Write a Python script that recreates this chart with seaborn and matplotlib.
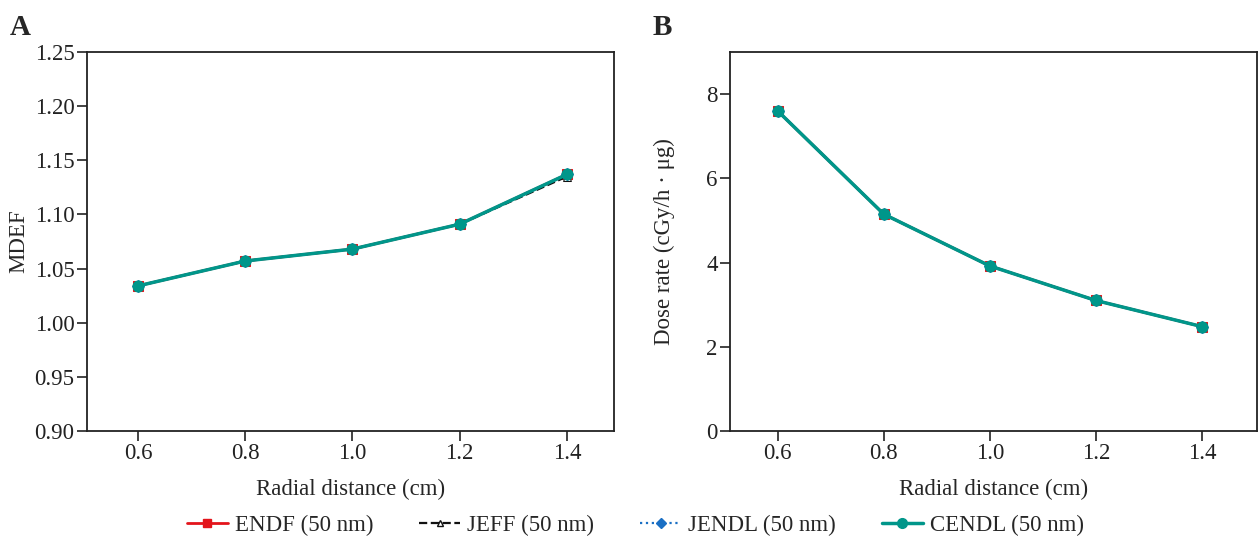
import numpy as np
import pandas as pd
import matplotlib
matplotlib.use("Agg")
import matplotlib.pyplot as plt
import seaborn as sns
from matplotlib.lines import Line2D

radial = [0.6, 0.8, 1.0, 1.2, 1.4]
series = ["ENDF (50 nm)", "JEFF (50 nm)", "JENDL (50 nm)", "CENDL (50 nm)"]

mdef_endf = [1.034, 1.057, 1.068, 1.091, 1.137]
mdef_jeff = [1.034, 1.057, 1.068, 1.091, 1.135]
mdef_jendl = [1.034, 1.057, 1.068, 1.091, 1.137]
mdef_cendl = [1.034, 1.057, 1.068, 1.091, 1.137]

dose_endf = [7.60, 5.15, 3.92, 3.10, 2.48]
dose_jeff = [7.60, 5.15, 3.92, 3.10, 2.48]
dose_jendl = [7.60, 5.15, 3.92, 3.10, 2.48]
dose_cendl = [7.60, 5.15, 3.92, 3.10, 2.48]

rows = []
for name, m, d in zip(series,
                      [mdef_endf, mdef_jeff, mdef_jendl, mdef_cendl],
                      [dose_endf, dose_jeff, dose_jendl, dose_cendl]):
    for x, mv, dv in zip(radial, m, d):
        rows.append({"r": x, "series": name, "mdef": mv, "dose": dv})
df = pd.DataFrame(rows)

sns.set_theme(style="ticks")
plt.rcParams["font.family"] = ["Liberation Serif", "DejaVu Serif"]

colors = {"ENDF (50 nm)": "#e3141b", "JEFF (50 nm)": "#111111",
          "JENDL (50 nm)": "#1a6fc4", "CENDL (50 nm)": "#00968a"}
styles = {"ENDF (50 nm)": dict(ls="-", marker="s", lw=2.0, ms=7, mfc="#e3141b"),
          "JEFF (50 nm)": dict(ls="--", marker="^", lw=1.6, ms=6, mfc="none"),
          "JENDL (50 nm)": dict(ls=":", marker="D", lw=1.6, ms=6, mfc="#1a6fc4"),
          "CENDL (50 nm)": dict(ls="-", marker="o", lw=2.5, ms=8, mfc="#00968a")}

fig = plt.figure(figsize=(12.58, 5.42), dpi=100)
axA = fig.add_axes([0.0692, 0.2048, 0.4189, 0.6992])
axB = fig.add_axes([0.5803, 0.2048, 0.4189, 0.6992])

fs = 16.5
for ax, col in [(axA, "mdef"), (axB, "dose")]:
    for name in series:
        sub = df[df["series"] == name]
        st = styles[name]
        sns.lineplot(data=sub, x="r", y=col, ax=ax, color=colors[name],
                     linestyle=st["ls"], marker=st["marker"], linewidth=st["lw"],
                     markersize=st["ms"], markerfacecolor=st["mfc"],
                     markeredgecolor=colors[name], legend=False)
    ax.set_xticks(radial)
    ax.set_xticklabels([f"{v:.1f}" for v in radial])
    ax.tick_params(labelsize=fs, direction="out", length=7, width=1.2, colors="#222222", pad=2)
    for s in ax.spines.values():
        s.set_linewidth(1.3)
        s.set_color("#222222")
    ax.set_xlabel("Radial distance (cm)", fontsize=fs, labelpad=10)

axA.set_xlim(0.505, 1.488)
axA.set_ylim(0.90, 1.25)
yt = np.arange(0.90, 1.2501, 0.05)
axA.set_yticks(yt)
axA.set_yticklabels([f"{v:.2f}" for v in yt])
axA.set_ylabel("MDEF", fontsize=fs, labelpad=4)

axB.set_xlim(0.51, 1.504)
axB.set_ylim(0, 9)
axB.set_yticks([0, 2, 4, 6, 8])
axB.set_ylabel("Dose rate (cGy/h · μg)", fontsize=fs, labelpad=22)

fig.text(0.008, 0.935, "A", fontsize=21, fontweight="bold")
fig.text(0.519, 0.935, "B", fontsize=21, fontweight="bold")

handles = [Line2D([], [], color=colors[n], linestyle=styles[n]["ls"], marker=styles[n]["marker"],
                  lw=styles[n]["lw"], ms=styles[n]["ms"] - 1, mfc=styles[n]["mfc"],
                  mec=colors[n]) for n in series]
fig.legend(handles, series, loc="center", bbox_to_anchor=(0.505, 0.03), ncol=4,
           frameon=False, fontsize=fs, handlelength=1.8, columnspacing=2.0, handletextpad=0.3)

fig.savefig("out.png", dpi=100)
